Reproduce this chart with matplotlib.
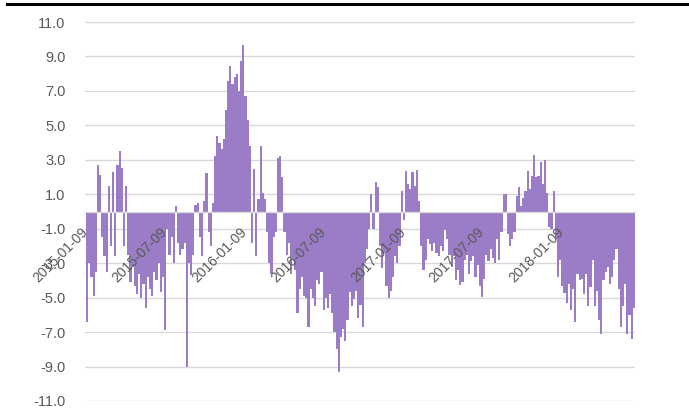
import numpy as np
import pandas as pd
import matplotlib
matplotlib.use("Agg")
import matplotlib.pyplot as plt
from matplotlib.lines import Line2D

plt.rcParams['font.family'] = ['Liberation Sans', 'DejaVu Sans']
plt.rcParams['axes.unicode_minus'] = False

start_date = "2015-01-09"
step_days = 5
values = [
    -6.4, -3.0, -3.8, -4.9, -3.5, 2.7, 2.1, -1.5, -2.6, -3.5,
    1.5, -2.0, 2.3, -2.6, 2.7, 3.5, 2.5, -2.0, 1.5, -2.5,
    -4.1, -3.2, -4.3, -4.8, -3.6, -5.0, -4.2, -5.6, -3.8, -4.5,
    -4.9, -3.5, -4.0, -3.0, -4.7, -3.8, -6.9, -1.0, -2.5, -1.5,
    -3.0, 0.3, -1.8, -2.5, -2.2, -1.8, -9.0, -3.0, -3.7, -2.5,
    0.4, 0.5, -1.5, -2.6, 0.6, 2.25, -1.2, -2.0, 0.5, 3.2,
    4.4, 4.0, 3.6, 4.2, 5.9, 7.6, 8.45, 7.4, 7.8, 8.0,
    7.0, 8.75, 9.65, 6.7, 5.3, 3.8, -1.8, 2.45, -2.6, 0.7,
    3.8, 1.1, 0.7, -1.2, -3.0, -3.6, -1.5, -1.2, 3.1, 3.2,
    2.0, -1.2, -2.5, -1.8, -3.6, -2.8, -3.4, -5.9, -4.5, -3.8,
    -4.9, -5.0, -6.7, -4.5, -5.0, -5.5, -4.0, -4.2, -3.5, -5.7,
    -5.0, -5.6, -4.8, -5.9, -7.0, -8.0, -9.3, -7.3, -6.8, -7.5,
    -6.3, -4.7, -5.5, -5.1, -4.6, -6.2, -5.4, -6.7, -3.0, -2.2,
    -1.0, 1.0, -1.0, 1.7, 1.4, -2.0, -3.3, -2.4, -4.3, -5.0,
    -4.6, -3.8, -2.6, -3.0, -2.0, 1.2, -0.5, 2.35, 1.6, 1.3,
    2.3, 1.5, 2.4, 0.6, -2.0, -3.4, -2.8, -1.6, -1.9, -2.3,
    -1.8, -2.4, -2.6, -2.0, -2.3, -1.1, -1.6, -2.5, -3.2, -2.6,
    -4.0, -3.4, -4.25, -4.1, -2.8, -2.5, -3.6, -2.9, -2.6, -3.8,
    -3.1, -4.3, -4.95, -3.9, -2.5, -2.9, -2.2, -2.7, -3.0, -1.6,
    -2.8, -1.2, 1.0, 1.0, -1.3, -2.0, -1.6, -1.2, 0.9, 1.4,
    0.3, 0.8, 1.2, 2.35, 1.3, 2.05, 3.3, 2.0, 2.05, 2.85,
    1.6, 3.0, 1.1, -0.9, -1.0, 1.2, -1.6, -3.8, -2.8, -4.3,
    -4.75, -5.3, -4.2, -5.7, -4.5, -6.4, -3.6, -4.0, -3.9, -4.8,
    -3.6, -5.5, -4.4, -2.8, -5.5, -4.6, -6.3, -7.1, -4.0, -3.5,
    -3.2, -4.2, -3.8, -2.8, -2.2, -4.5, -6.7, -5.5, -4.2, -7.1,
    -6.0, -7.4, -5.6,
]
tick_dates = ["2015-01-09", "2015-07-09", "2016-01-09", "2016-07-09",
              "2017-01-09", "2017-07-09", "2018-01-09"]
y_ticks = [-11, -9, -7, -5, -3, -1, 1, 3, 5, 7, 9, 11]

dates = pd.date_range(start_date, periods=len(values), freq=f"{step_days}D")

fig = plt.figure(figsize=(6.89, 4.17), dpi=100)
ax = fig.add_axes([85/689, 1-401/417, 550/689, 379/417])

ax.bar(dates, values, width=step_days, align='edge', color='#9a7dc6',
       linewidth=0, zorder=2)

for s in ['top', 'right', 'left']:
    ax.spines[s].set_visible(False)
ax.spines['bottom'].set_position(('data', 0))
ax.spines['bottom'].set_color('#d9d9d9')
ax.spines['bottom'].set_linewidth(1.0)
ax.spines['bottom'].set_zorder(3)

t0 = pd.Timestamp(start_date)
ax.set_xlim(t0 - pd.Timedelta(days=2.3), t0 + pd.Timedelta(days=1265))
ax.set_ylim(-11, 11)

ax.set_yticks(y_ticks)
ax.set_yticklabels([f"{v:.1f}" for v in y_ticks])
ax.grid(axis='y', color='#d9d9d9', linewidth=1.0)
ax.set_axisbelow(True)
ax.xaxis.set_zorder(4)

tick_ts = [pd.Timestamp(d) for d in tick_dates]
ax.set_xticks(tick_ts)
ax.set_xticklabels(tick_dates)

ax.tick_params(axis='y', length=0, pad=14, labelsize=10.5, labelcolor='#595959')
ax.tick_params(axis='x', length=0, pad=13, labelsize=10, labelcolor='#595959')
for lbl in ax.get_xticklabels():
    lbl.set_rotation(45)
    lbl.set_ha('right')
    lbl.set_va('center')
    lbl.set_rotation_mode('anchor')

fig.add_artist(Line2D([7/689, 1.0], [1-4.2/417, 1-4.2/417], color='black',
                      linewidth=2.2, transform=fig.transFigure))

fig.savefig("out.png", dpi=100)
